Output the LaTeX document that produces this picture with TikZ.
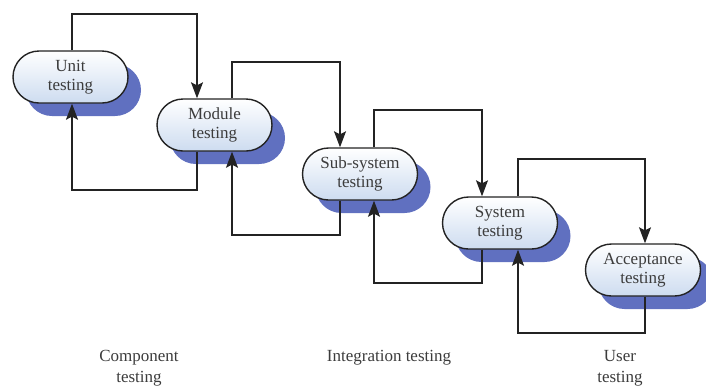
\documentclass[tikz,border=0pt]{standalone}
\usepackage{fontspec}
\setmainfont{Liberation Serif}
\usetikzlibrary{arrows.meta,shadows}
\definecolor{ink}{RGB}{35,35,35}
\definecolor{txt}{RGB}{60,60,60}
\definecolor{shadowblue}{RGB}{96,112,192}
\definecolor{paleblue}{RGB}{205,220,240}
\begin{document}
\begin{tikzpicture}[x=1pt,y=-1pt,
  stage/.style={draw=ink, line width=1.4pt, rectangle, rounded corners=26pt,
    minimum width=115pt, minimum height=52pt, inner sep=0pt,
    left color=white, right color=paleblue, shading angle=0,
    align=center, text=txt,
    font=\fontsize{17}{19}\selectfont,
    drop shadow={shadow xshift=13pt, shadow yshift=-13pt, fill=shadowblue, opacity=1, draw=none}},
  conn/.style={draw=ink, line width=1.3pt},
  arr/.style={conn, -{Stealth[length=16pt,width=12pt,inset=3pt]}},
  lbl/.style={text=txt, align=center, anchor=north, inner sep=0pt,
    font=\fontsize{17}{21}\selectfont}]
\useasboundingbox (0,0) rectangle (706,389);
\node[stage] (unit) at (70.5,77) {Unit\\testing};
\node[stage] (module) at (214.5,125) {Module\\testing};
\node[stage] (sub) at (360,174) {Sub-system\\testing};
\node[stage] (system) at (500,223) {System\\testing};
\node[stage] (accept) at (643,270) {Acceptance\\testing};
% connection points
\coordinate (u-t) at ([xshift=1.5pt]unit.north);
\coordinate (u-b) at ([xshift=1.5pt]unit.south);
\coordinate (m-ti) at ([xshift=-17.5pt]module.north);
\coordinate (m-to) at ([xshift=17.5pt]module.north);
\coordinate (m-bo) at ([xshift=-17.5pt]module.south);
\coordinate (m-bi) at ([xshift=17.5pt]module.south);
\coordinate (s-ti) at ([xshift=-20pt]sub.north);
\coordinate (s-to) at ([xshift=14pt]sub.north);
\coordinate (s-bo) at ([xshift=-20pt]sub.south);
\coordinate (s-bi) at ([xshift=14pt]sub.south);
\coordinate (y-ti) at ([xshift=-18pt]system.north);
\coordinate (y-to) at ([xshift=18pt]system.north);
\coordinate (y-bo) at ([xshift=-18pt]system.south);
\coordinate (y-bi) at ([xshift=18pt]system.south);
\coordinate (a-t) at ([xshift=2pt]accept.north);
\coordinate (a-b) at ([xshift=2pt]accept.south);
% loop levels
\coordinate (t1) at (130,14);
\coordinate (b1) at (130,190);
\coordinate (t2) at (280,62);
\coordinate (b2) at (280,235);
\coordinate (t3) at (430,110);
\coordinate (b3) at (430,283);
\coordinate (t4) at (580,159);
\coordinate (b4) at (580,333);
% forward loops
\draw[arr] (u-t) |- (t1) -| (m-ti);
\draw[arr] (m-to) |- (t2) -| (s-ti);
\draw[arr] (s-to) |- (t3) -| (y-ti);
\draw[arr] (y-to) |- (t4) -| (a-t);
% return loops
\draw[arr] (m-bo) |- (b1) -| (u-b);
\draw[arr] (s-bo) |- (b2) -| (m-bi);
\draw[arr] (y-bo) |- (b3) -| (s-bi);
\draw[arr] (a-b) |- (b4) -| (y-bi);
% bottom labels
\node[lbl] (comp) at (139,350) {Component\\testing};
\node[lbl] (integ) at (389,350) {Integration testing};
\node[lbl] (user) at (620,350) {User\\testing};
\end{tikzpicture}
\end{document}
